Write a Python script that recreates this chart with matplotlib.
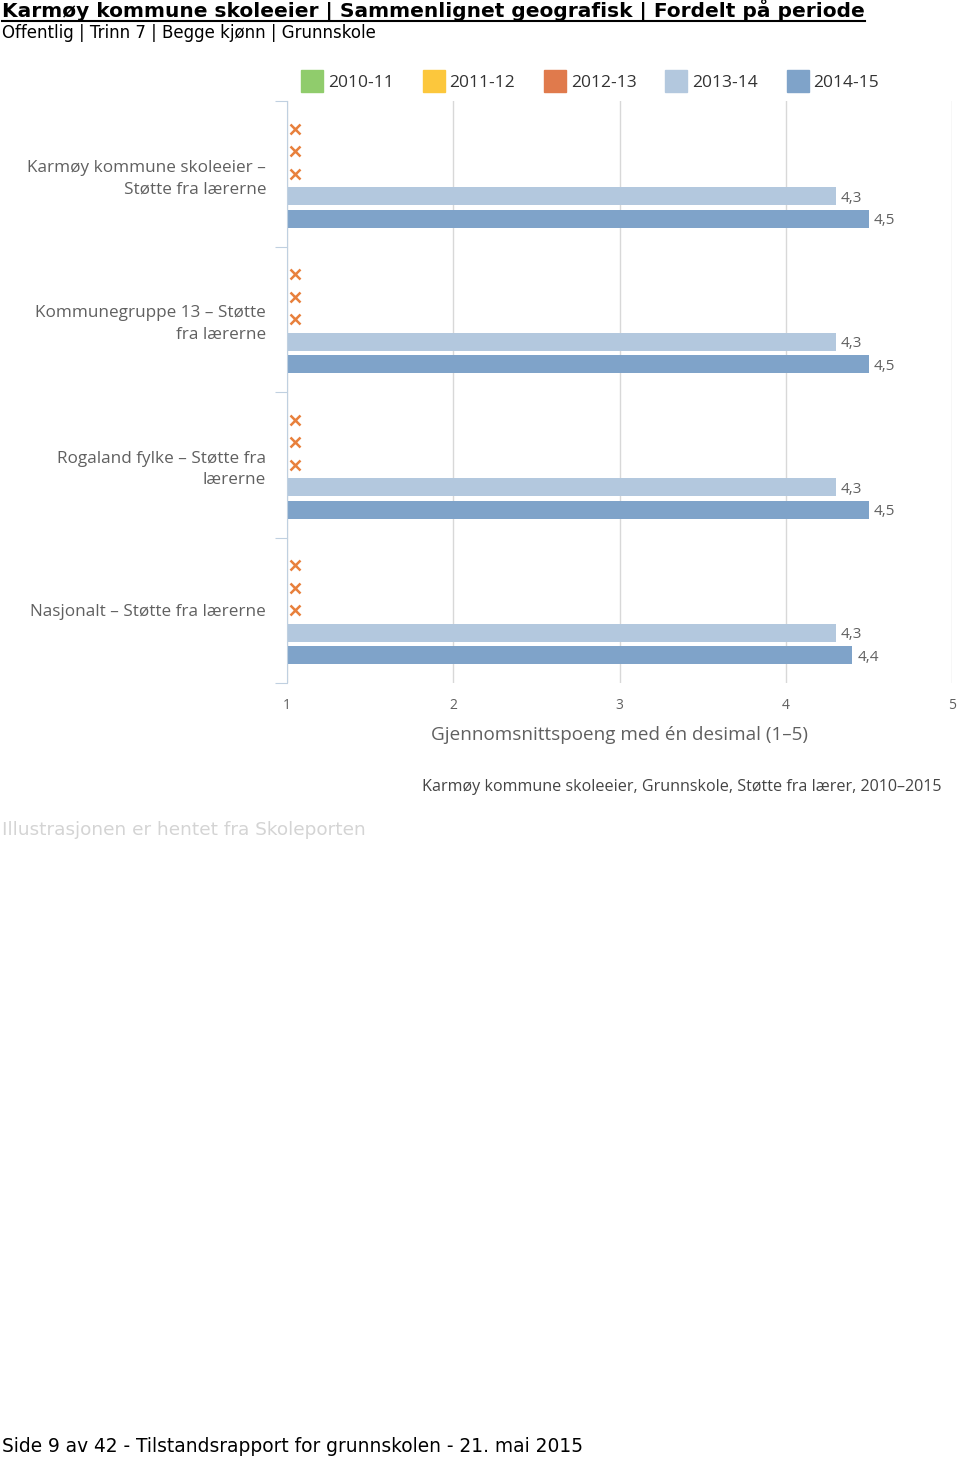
import matplotlib
matplotlib.use("Agg")
import matplotlib.pyplot as plt
from matplotlib.lines import Line2D
import numpy as np

categories = [
    "Karmøy kommune skoleeier –\nStøtte fra lærerne",
    "Kommunegruppe 13 – Støtte\nfra lærerne",
    "Rogaland fylke – Støtte fra\nlærerne",
    "Nasjonalt – Støtte fra lærerne",
]
series_names = ["2010-11", "2011-12", "2012-13", "2013-14", "2014-15"]
series_colors = ["#90cc6c", "#fcc73c", "#e07a4c", "#b3c8de", "#7fa3c9"]
values = {
    "2010-11": [None, None, None, None],
    "2011-12": [None, None, None, None],
    "2012-13": [None, None, None, None],
    "2013-14": [4.3, 4.3, 4.3, 4.3],
    "2014-15": [4.5, 4.5, 4.5, 4.4],
}
x_ticks = [1, 2, 3, 4, 5]

W, H = 960, 1461
fig = plt.figure(figsize=(W / 100, H / 100), dpi=100)
fig.patch.set_facecolor("white")

lab_font = ["Open Sans", "DejaVu Sans"]
grey = "#606060"

ax_left, ax_right, ax_top, ax_bot = 287, 952, 101, 683
ax = fig.add_axes([ax_left / W, 1 - ax_bot / H, (ax_right - ax_left) / W, (ax_bot - ax_top) / H])

n = len(categories)
slot = 22.5 / 145.5
bar_h = 18 / 145.5
marker_color = "#e8803c"
for i, name in enumerate(series_names):
    offs = (i - 2) * slot
    for j, v in enumerate(values[name]):
        y = j + offs
        if v is None:
            ax.plot([1.05], [y], marker="x", color=marker_color, markersize=7, mew=1.8, zorder=3, clip_on=False)
        else:
            ax.barh(y, v - 1, left=1, height=bar_h, color=series_colors[i], zorder=2)
            ax.text(v + 0.03, y + 0.015, f"{v:.1f}".replace(".", ","), va="center", ha="left",
                    fontsize=11, color=grey, family=lab_font)

ax.set_xlim(1, 5)
ax.set_ylim(n - 0.5, -0.5)
ax.set_xticks(x_ticks)
ax.set_xticklabels([str(t) for t in x_ticks], fontsize=10, color=grey, family=lab_font)
ax.tick_params(axis="x", length=0, pad=11)
ax.xaxis.grid(True, color="#d8d8d8", linewidth=1, zorder=0)
ax.set_axisbelow(True)

ax.set_yticks(np.arange(-0.5, n, 1.0))
ax.set_yticklabels([])
ax.tick_params(axis="y", which="major", length=9, color="#c0d0e0", direction="out")
ax.set_yticks(np.arange(n), minor=True)
ax.set_yticklabels(categories, minor=True, fontsize=12.3, color=grey, family=lab_font, ha="right", linespacing=1.45)
ax.tick_params(axis="y", which="minor", length=0, pad=15)

for s in ["top", "right", "bottom"]:
    ax.spines[s].set_visible(False)
ax.spines["left"].set_color("#c0d0e0")

ax.set_xlabel("Gjennomsnittspoeng med én desimal (1–5)", fontsize=13.6, color=grey, family=lab_font, labelpad=9)

handles = [Line2D([0], [0], marker="s", linestyle="none", markersize=16, markerfacecolor=c, markeredgecolor=c)
           for c in series_colors]
fig.legend(handles, series_names, loc="center", bbox_to_anchor=(591 / W, 1 - 83 / H), ncol=5, frameon=False,
           prop={"family": lab_font, "size": 12.5}, labelcolor="#333333", handletextpad=0.35, columnspacing=1.75,
           handlelength=1.1)

fig.text(942 / W, 1 - 787 / H, "Karmøy kommune skoleeier, Grunnskole, Støtte fra lærer, 2010–2015",
         ha="right", va="center", fontsize=11.6, color="#444444", family=lab_font)

t = fig.text(2 / W, 1 - 11 / H, "Karmøy kommune skoleeier | Sammenlignet geografisk | Fordelt på periode",
             ha="left", va="center", fontsize=14.5, fontweight="bold", color="black", family="DejaVu Sans")
fig.text(2 / W, 1 - 33 / H, "Offentlig | Trinn 7 | Begge kjønn | Grunnskole",
         ha="left", va="center", fontsize=12, color="black", family="DejaVu Sans")
fig.text(2 / W, 1 - 830 / H, "Illustrasjonen er hentet fra Skoleporten",
         ha="left", va="center", fontsize=13.3, color="#d4d4d4", family="DejaVu Sans")
fig.text(2 / W, 1 - 1447 / H, "Side 9 av 42 - Tilstandsrapport for grunnskolen - 21. mai 2015",
         ha="left", va="center", fontsize=13.4, color="black", family="DejaVu Sans")

# underline for title
fig.canvas.draw()
bb = t.get_window_extent()
uy = (H - 21) / H
fig.add_artist(Line2D([bb.x0 / W, bb.x1 / W], [uy, uy], color="black", linewidth=1.5,
                      transform=fig.transFigure))

fig.savefig("out.png", dpi=100, facecolor="white")
